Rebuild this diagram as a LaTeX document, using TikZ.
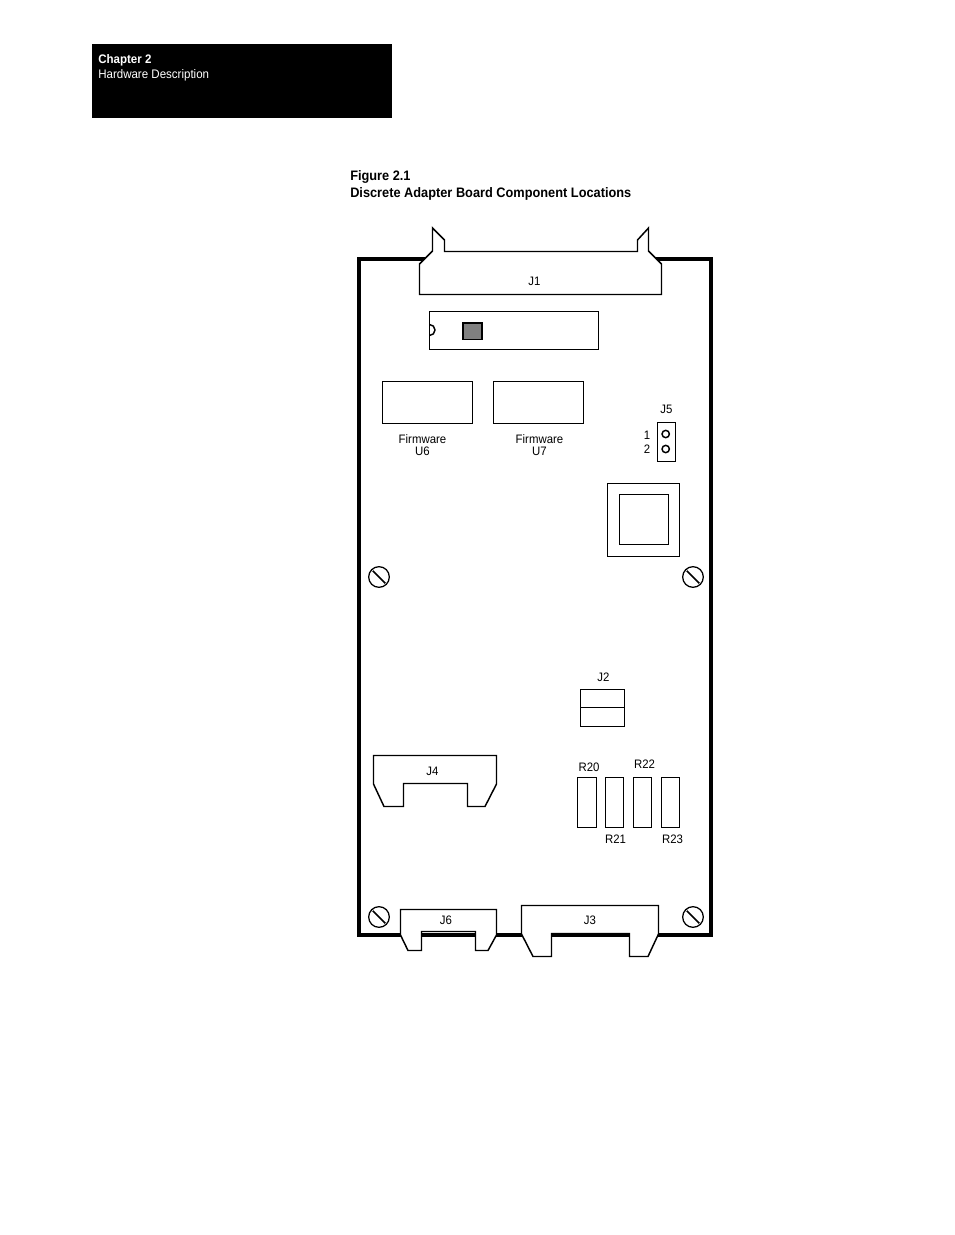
\documentclass[tikz,border=0pt]{standalone}
\usepackage{fontspec}
\setmainfont{Liberation Sans}[FakeStretch=0.93]
\tikzset{
  px/.style={x=0.75pt,y=-0.75pt},
  part/.style={draw=black,line width=1.1pt,fill=white,line join=miter},
  partb/.style={draw=black,line width=1.3pt,fill=white},
  lbl/.style={font=\fontsize{9.2pt}{9.2pt}\selectfont,inner sep=0pt,text=black},
  two/.style={lbl,align=center},
  head/.style={font=\fontsize{9.3pt}{9.3pt}\selectfont,inner sep=0pt,anchor=base west,text=white},
  captext/.style={font=\bfseries\fontsize{10.3pt}{10.3pt}\selectfont,inner sep=0pt,anchor=base west},
  screw/.style={circle,draw=black,line width=0.95pt,minimum size=15.5pt,inner sep=0pt,fill=white},
  slot/.style={draw=black,line width=1.2pt,shorten >=1.6pt,shorten <=1.6pt},
  pin/.style={circle,draw=black,line width=1.1pt,minimum size=5.5pt,inner sep=0pt}
}
\begin{document}
\begin{tikzpicture}[px]
\useasboundingbox (0,0) rectangle (954,1235);
\fill[white] (0,0) rectangle (954,1235);
% header
\fill[black] (92,44) rectangle (392,118);
\node[head,font=\bfseries\fontsize{9.3pt}{9.3pt}\selectfont] (ch) at (98,63) {Chapter 2};
\node[head] (hd) at (98,78) {Hardware Description};
\node[captext] (f1) at (350,180) {Figure 2.1};
\node[captext] (f2) at (350,197) {Discrete Adapter Board Component Locations};
% board
\draw[black,line width=2.3pt,line join=miter] (359,259) rectangle (711,935);
% J1
\draw[part] (419.5,294.5) -- (419.5,264) -- (432.5,251) -- (432.5,228) -- (444.5,240) -- (444.5,251.5) -- (637.5,251.5) -- (637.5,240) -- (648.5,228) -- (648.5,251) -- (661.5,264) -- (661.5,294.5) -- cycle;
\node[lbl] (j1) at (534.5,281) {J1};
% chip
\draw[part] (429.5,311.5) rectangle (598.5,349.5);
\draw[part,fill=none] (429.5,335.5) arc[start angle=90,end angle=-90,radius=5.5];
\draw[black,line width=1.15pt,fill=black!50] (463,323) rectangle (482,339.5);
% U6 U7
\draw[part] (382.5,381.5) rectangle (472.5,423.5);
\draw[partb] (493.5,381.5) rectangle (583.5,423.5);
\node[two] (u6) at (422.5,445) {Firmware\\[-0.5pt]U6};
\node[two] (u7) at (539.5,445) {Firmware\\[-0.5pt]U7};
% J5
\draw[part] (657.5,422.5) rectangle (675.5,461.5);
\node[pin] (p1) at (665.7,434) {};
\node[pin] (p2) at (665.7,449) {};
\node[lbl] (j5) at (666.5,409.5) {J5};
\node[lbl] (n1) at (647,435.5) {1};
\node[lbl] (n2) at (647,449.5) {2};
% transformer
\draw[part] (607.5,483.5) rectangle (679.5,556.5);
\draw[part] (619.5,494.5) rectangle (668.5,544.5);
% screws
\foreach \n/\x/\y in {a/379/577,b/693/577,c/379/917,d/693/917}{
  \node[screw] (s\n) at (\x,\y) {};
  \draw[slot] (s\n.135) -- (s\n.-45);
}
% J2
\draw[part] (580.5,689.5) rectangle (624.5,726.5);
\draw[part] (580.5,707.5) -- (624.5,707.5);
\node[lbl] (j2) at (603.5,677) {J2};
% J4
\draw[part] (373.5,755.5) -- (496.5,755.5) -- (496.5,784) -- (485,806.5) -- (467.5,806.5) -- (467.5,783.5) -- (403.5,783.5) -- (403.5,806.5) -- (384,806.5) -- (373.5,784) -- cycle;
\node[lbl] (j4) at (432.5,771) {J4};
% resistors
\draw[part] (577.5,777.5) rectangle (596.5,827.5);
\draw[part] (605.5,777.5) rectangle (623.5,827.5);
\draw[part] (633.5,777.5) rectangle (651.5,827.5);
\draw[part] (661.5,777.5) rectangle (679.5,827.5);
\node[lbl] (r20) at (589,767) {R20};
\node[lbl] (r22) at (644.5,764.5) {R22};
\node[lbl] (r21) at (615.5,839.5) {R21};
\node[lbl] (r23) at (672.5,839.5) {R23};
% J6
\draw[part] (400.5,909.5) -- (496.5,909.5) -- (496.5,935) -- (488,950.5) -- (475.5,950.5) -- (475.5,931.5) -- (421.5,931.5) -- (421.5,950.5) -- (408,950.5) -- (400.5,935) -- cycle;
\node[lbl] (j6) at (446,920.5) {J6};
% J3
\draw[part] (521.5,905.5) -- (658.5,905.5) -- (658.5,934) -- (648,956.5) -- (629.5,956.5) -- (629.5,933.5) -- (551.5,933.5) -- (551.5,956.5) -- (533,956.5) -- (521.5,934) -- cycle;
\node[lbl] (j3) at (590,920.5) {J3};
\end{tikzpicture}
\end{document}
